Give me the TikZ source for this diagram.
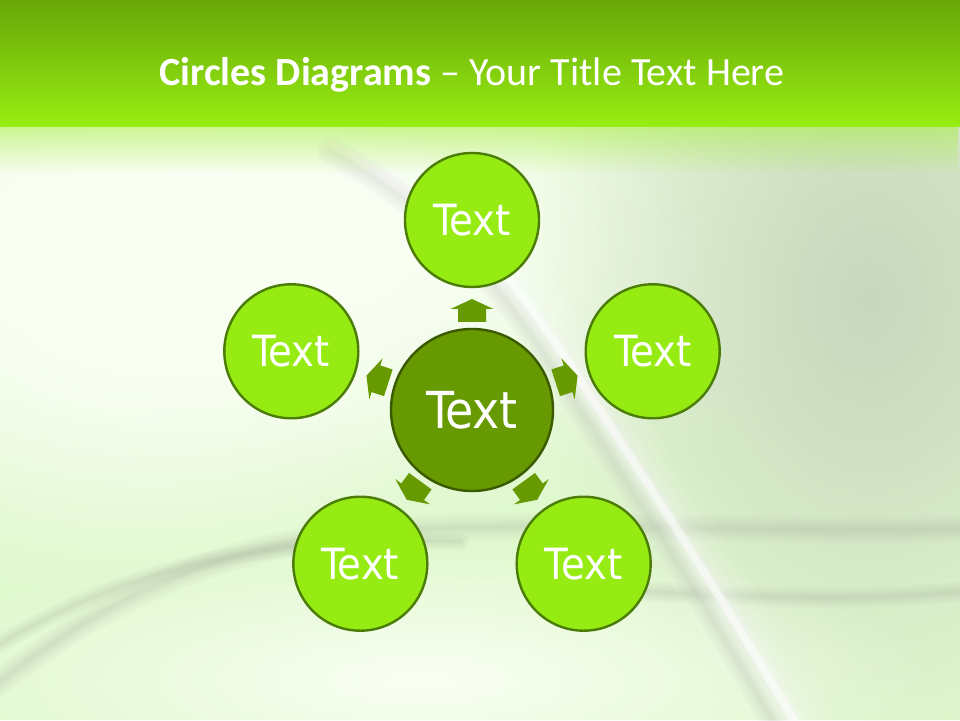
\documentclass[tikz,border=0pt]{standalone}
\usepackage{fontspec}
\setmainfont{Carlito}
\newfontfamily\circfont{DejaVu Sans Condensed}
\usetikzlibrary{calc,fadings}
\definecolor{hdrtop}{HTML}{68A608}
\definecolor{hdrbot}{HTML}{98EE12}
\definecolor{hdrfade}{HTML}{A6EE3A}
\definecolor{bgm}{HTML}{E0F8CE}
\definecolor{bgw}{HTML}{FAFFF4}
\definecolor{bgg}{HTML}{C8D6BE}
\definecolor{outfill}{HTML}{96EC12}
\definecolor{outline}{HTML}{4A7C06}
\definecolor{midfill}{HTML}{669A00}
\definecolor{midline}{HTML}{3A5A00}
\definecolor{swgray}{HTML}{A8B4A0}
\tikzfading[name=glow, inner color=transparent!0, outer color=transparent!100]
\tikzfading[name=fadedn, top color=transparent!0, bottom color=transparent!100]
\tikzset{
  outer/.style={circle, draw=outline, line width=2.4pt, fill=outfill, minimum size=134pt, inner sep=0pt, text=white, font=\circfont\fontsize{43}{43}\selectfont},
  centre/.style={circle, draw=midline, line width=2.4pt, fill=midfill, minimum size=162pt, inner sep=0pt, text=white, font=\circfont\fontsize{51}{51}\selectfont},
  blockarrow/.style={fill=midfill, draw=none},
  soft/.style={line cap=round, opacity=0.07},
}
\newcommand{\blockarr}[1]{%
  \begin{scope}[shift={(c.center)}, rotate=#1]
    \fill[blockarrow] (88,-14) -- (101,-14) -- (101,-21.5) -- (111,0) -- (101,21.5) -- (101,14) -- (88,14) -- cycle;
  \end{scope}}
\newcommand{\softband}[3]{% colour, max width, path
  \foreach \w in {1,0.75,0.5,0.3,0.15}{\draw[#1, soft, line width=\w*#2] #3;}}
% glow: colour, centre x, centre y, radius x, radius y
\newcommand{\glowat}[5]{%
  \fill[#1, path fading=glow] ({#2-2*#4},{#3-2*#5}) rectangle ({#2+2*#4},{#3+2*#5});}
\begin{document}
\begin{tikzpicture}[x=1pt,y=1pt]
\useasboundingbox (0,0) rectangle (960,720);
% background
\fill[bgm] (0,0) rectangle (960,600);
\begin{scope}
\clip (0,0) rectangle (960,600);
\glowat{bgw}{230}{480}{330}{150}
\glowat{bgw}{250}{470}{260}{110}
\glowat{bgw}{200}{480}{180}{80}
\glowat{bgw}{130}{420}{200}{150}
\glowat{bgg}{870}{420}{170}{230}
\glowat{bgw}{420}{40}{260}{70}
% gray waves
\softband{swgray}{26pt}{(-10,30) .. controls (100,120) and (220,180) .. (400,190) .. controls (600,200) and (800,185) .. (970,192)}
\softband{swgray}{18pt}{(-10,70) .. controls (120,150) and (260,185) .. (460,178)}
\softband{swgray}{20pt}{(620,130) .. controls (760,122) and (880,118) .. (970,130)}
% diagonal band: gray shadow then white
\softband{swgray}{26pt}{(330,570) .. controls (410,525) and (480,465) .. (538,375) .. controls (618,255) and (708,115) .. (778,-10)}
\softband{white}{70pt}{(320,585) .. controls (420,530) and (500,460) .. (560,370) .. controls (640,250) and (730,110) .. (800,-10)}
\softband{white}{30pt}{(320,585) .. controls (420,530) and (500,460) .. (560,370) .. controls (640,250) and (730,110) .. (800,-10)}
\softband{white}{16pt}{(320,585) .. controls (420,530) and (500,460) .. (560,370) .. controls (640,250) and (730,110) .. (800,-10)}
\draw[white, line width=8pt, opacity=0.45, line cap=round] (420,530) .. controls (480,480) and (520,430) .. (560,370) .. controls (640,250) and (730,110) .. (800,-10);
% header fade
\fill[hdrfade, path fading=fadedn] (0,640) rectangle (960,546);
\end{scope}
% header
\shade[top color=hdrtop, bottom color=hdrbot] (0,720) rectangle (960,593);
\node[text=white, font=\fontsize{40}{40}\selectfont] (title) at (472,645) {\textbf{Circles Diagrams} -- Your Title Text Here};
% circles
\node[centre] (c) at (472,310) {Text};
\node[outer] (n1) at ($(c)+(90:190)$) {Text};
\node[outer] (n2) at ($(c)+(18:190)$) {Text};
\node[outer] (n3) at ($(c)+(162:190)$) {Text};
\node[outer] (n4) at ($(c)+(-54:190)$) {Text};
\node[outer] (n5) at ($(c)+(234:190)$) {Text};
% arrows
\blockarr{90}
\blockarr{18}
\blockarr{162}
\blockarr{-54}
\blockarr{234}
\end{tikzpicture}
\end{document}
